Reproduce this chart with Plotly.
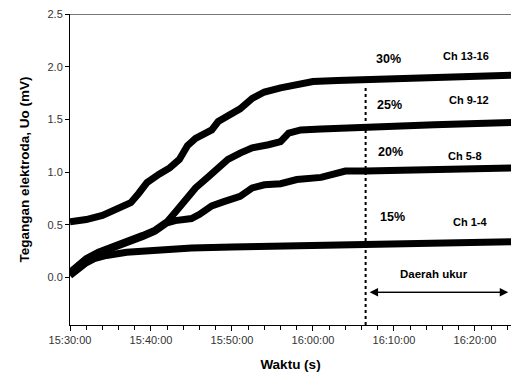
import plotly.graph_objects as go
from datetime import datetime, timedelta

BASE = datetime(2020, 1, 1, 15, 30, 0)

def t(mins):
    return [(BASE + timedelta(minutes=m)).strftime("%Y-%m-%d %H:%M:%S") for m in mins]

# minutes after 15:30:00 and voltages (mV)
ch13_min = [0, 2, 4, 6, 7.5, 8.5, 9.5, 11, 12.3, 13.5, 14.5, 15.5, 16.5, 17.5, 18.3, 19.5, 21, 22.5, 24, 26, 28, 30, 33, 36.5, 40, 45, 50, 54.6]
ch13_val = [0.53, 0.55, 0.59, 0.66, 0.71, 0.80, 0.90, 0.98, 1.04, 1.12, 1.25, 1.32, 1.36, 1.40, 1.48, 1.53, 1.60, 1.70, 1.76, 1.80, 1.83, 1.86, 1.87, 1.88, 1.89, 1.90, 1.91, 1.92]

ch9_min = [0, 1, 2, 3.5, 5, 7, 9, 10.5, 12, 13, 14.5, 15.5, 17, 18, 19.5, 21, 22.5, 24.5, 26, 27, 28.5, 31, 36.5, 45, 54.6]
ch9_val = [0.05, 0.12, 0.18, 0.24, 0.28, 0.34, 0.40, 0.45, 0.53, 0.62, 0.75, 0.85, 0.95, 1.02, 1.12, 1.18, 1.23, 1.26, 1.29, 1.37, 1.40, 1.41, 1.43, 1.45, 1.47]

ch5_min = [0, 1, 2, 3.5, 5, 7, 9, 10.5, 12, 13, 15, 16, 17.5, 19, 21, 22.5, 24, 26, 28, 31, 33, 34, 36.5, 45, 54.6]
ch5_val = [0.03, 0.10, 0.16, 0.23, 0.27, 0.33, 0.39, 0.44, 0.52, 0.54, 0.56, 0.60, 0.68, 0.72, 0.77, 0.85, 0.88, 0.89, 0.93, 0.95, 0.99, 1.01, 1.01, 1.03, 1.04]

ch1_min = [0, 1, 2, 3, 4.5, 7, 10, 15, 20, 30, 40, 54.6]
ch1_val = [0.02, 0.09, 0.14, 0.18, 0.21, 0.24, 0.26, 0.28, 0.29, 0.30, 0.31, 0.34]

series = [
    ("Ch 1-4", ch1_min, ch1_val),
    ("Ch 5-8", ch5_min, ch5_val),
    ("Ch 9-12", ch9_min, ch9_val),
    ("Ch 13-16", ch13_min, ch13_val),
]

labels_pct = ["15%", "20%", "25%", "30%"]
labels_ch = ["Ch 1-4", "Ch 5-8", "Ch 9-12", "Ch 13-16"]
pct_pos = [(39.8, 0.57), (39.6, 1.19), (39.4, 1.64), (39.3, 2.07)]
ch_pos = [(49.5, 0.53), (48.8, 1.15), (49.3, 1.68), (48.9, 2.10)]

marker_min = 36.5
measure_start, measure_end = 37.0, 54.1

fig = go.Figure()
for name, mins, vals in series:
    fig.add_trace(go.Scatter(x=t(mins), y=vals, mode="lines", name=name,
                             line=dict(color="black", width=7)))

font = "Liberation Sans, Arial, sans-serif"
ann = []
for txt, (m, v) in zip(labels_pct, pct_pos):
    ann.append(dict(x=t([m])[0], y=v, text=f"<b>{txt}</b>", showarrow=False,
                    font=dict(family=font, size=12.5, color="black")))
for txt, (m, v) in zip(labels_ch, ch_pos):
    ann.append(dict(x=t([m])[0], y=v, text=f"<b>{txt}</b>", showarrow=False,
                    font=dict(family=font, size=11, color="black")))
ann.append(dict(x=t([44.9])[0], y=0.03, text="<b>Daerah ukur</b>", showarrow=False,
                font=dict(family=font, size=11.5, color="black")))
for head, tail in ((measure_start, measure_end), (measure_end, measure_start)):
    ann.append(dict(x=t([head])[0], y=-0.14, ax=t([tail])[0], ay=-0.14,
                    xref="x", yref="y", axref="x", ayref="y", text="", showarrow=True,
                    arrowhead=2, arrowsize=1.4, arrowwidth=1.2, arrowcolor="black"))

fig.add_shape(type="line", x0=t([marker_min])[0], x1=t([marker_min])[0], y0=-0.45, y1=1.82,
              xref="x", yref="y", line=dict(color="black", width=2, dash="dot"))
fig.add_shape(type="line", x0=0, x1=1, xref="paper", y0=2.5, y1=2.5, yref="y",
              line=dict(color="#777777", width=2))

fig.update_layout(
    width=511, height=381,
    margin=dict(l=70, r=0, t=14, b=56),
    paper_bgcolor="white", plot_bgcolor="white",
    showlegend=False,
    annotations=ann,
    font=dict(family=font, color="#333333"),
)
fig.update_xaxes(
    type="date", automargin=False,
    range=[t([0])[0], t([54.45])[0]],
    tickformat="%H:%M:%S", dtick=600000, tick0=t([0])[0],
    ticks="outside", ticklen=5, tickcolor="black",
    minor=dict(dtick=120000, ticks="outside", ticklen=4, tickcolor="black"),
    showline=True, linecolor="black", linewidth=1,
    showgrid=False, zeroline=False,
    tickfont=dict(family=font, size=11, color="#333333"),
    title=dict(text="<b>Waktu (s)</b>", font=dict(family=font, size=13.5, color="black"), standoff=14),
)
fig.update_yaxes(
    automargin=False,
    range=[-0.45, 2.5], tickvals=[0, 0.5, 1.0, 1.5, 2.0, 2.5], tickformat=".1f",
    ticks="outside", ticklen=4, tickcolor="black",
    showline=True, linecolor="black", linewidth=1,
    showgrid=False, zeroline=False,
    tickfont=dict(family=font, size=11, color="#333333"),
    title=dict(text="<b>Tegangan elektroda, Uo (mV)</b>", font=dict(family=font, size=13.5, color="black"), standoff=14),
)

fig.write_html("out.html", config={"displayModeBar": False},
               post_script="document.body.style.margin='0';document.body.style.overflow='hidden';")
